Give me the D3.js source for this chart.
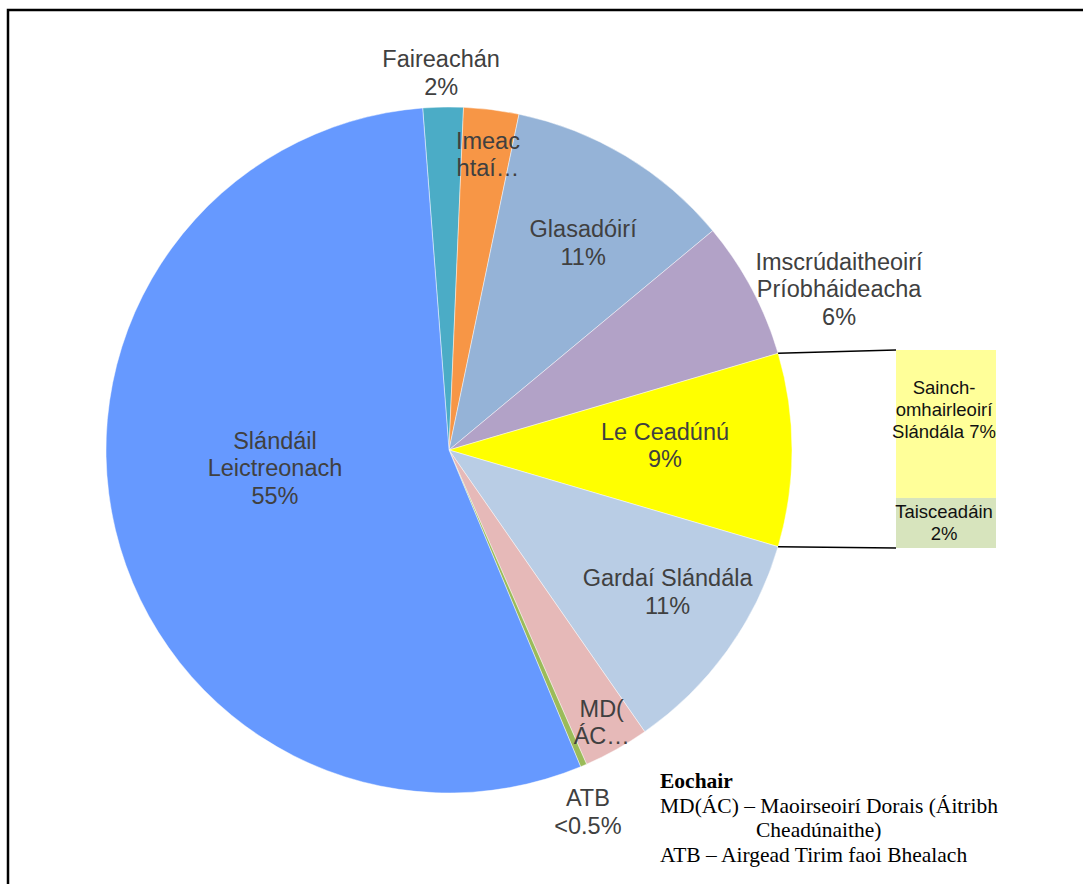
<!DOCTYPE html>
<html>
<head>
<meta charset="utf-8">
<script src="https://cdn.jsdelivr.net/npm/d3@7"></script>
<style>
  html, body { margin: 0; padding: 0; background: #fff; }
  svg { display: block; }
</style>
</head>
<body>
<svg id="chart"></svg>
<script>
// pie slices, clockwise from the top
const categories = ["Faireachán", "Imeachtaí", "Glasadóirí", "Imscrúdaitheoirí Príobháideacha",
    "Le Ceadúnú", "Gardaí Slándála", "MD(ÁC)", "ATB", "Slándáil Leictreonach"];
const values = [1.9, 2.6, 10.7, 6.5, 9.1, 10.8, 3.1, 0.3, 55.1];
const labelLines = [
    ["Faireachán", "2%"],
    ["Imeac", "htaí…"],
    ["Glasadóirí", "11%"],
    ["Imscrúdaitheoirí", "Príobháideacha", "6%"],
    ["Le Ceadúnú", "9%"],
    ["Gardaí Slándála", "11%"],
    ["MD(", "ÁC…"],
    ["ATB", "<0.5%"],
    ["Slándáil", "Leictreonach", "55%"]
];
// the "Le Ceadúnú" slice broken out into the bar
const barCategories = ["Sainch-omhairleoirí Slándála", "Taisceadáin"];
const barValues = [6.8, 2.3];
const barLabelLines = [["Sainch-", "omhairleoirí", "Slándála 7%"], ["Taisceadáin", "2%"]];
const legendTitle = "Eochair";
const legendLines = ["MD(ÁC) – Maoirseoirí Dorais (Áitribh", "Cheadúnaithe)", "ATB – Airgead Tirim faoi Bhealach"];

const width = 1083, height = 884;
const cx = 449, cy = 450, radius = 343;
const colors = ["#4BACC6", "#F79646", "#95B3D7", "#B2A2C7", "#FFFF00", "#B9CDE5", "#E6B9B8", "#9BBB59", "#6699FF"];
const barColors = ["#FFFF99", "#D7E4BD"];
const otherIndex = 4;
// label placement: angle (deg, clockwise from top) and radius as a share of the pie radius
const labelPlace = [
    {a: -1.2, r: 1.10}, {a: 7.5, r: 0.87}, {a: 32.9, r: 0.72}, {a: 67.6, r: 1.23},
    {a: 88.7, r: 0.63}, {a: 123, r: 0.76}, {a: 150.7, r: 0.91}, {a: 159, r: 1.13}, {a: 264.1, r: 0.51}
];

const svg = d3.select("#chart").attr("width", width).attr("height", height);

// frame (only top and left edges fall inside the picture)
svg.append("rect")
    .attr("x", 8).attr("y", 10).attr("width", width + 20).attr("height", height + 20)
    .attr("fill", "none").attr("stroke", "#000").attr("stroke-width", 2.5);

// start angle so the broken-out slice sits at 3 o'clock
const total = d3.sum(values);
const before = d3.sum(values.slice(0, otherIndex)) + values[otherIndex] / 2;
const start = Math.PI / 2 - before / total * 2 * Math.PI;

const pie = d3.pie().sort(null).value(d => d)
    .startAngle(start).endAngle(start + 2 * Math.PI);
const arcs = pie(values);
const arc = d3.arc().innerRadius(0).outerRadius(radius);

const g = svg.append("g").attr("transform", `translate(${cx},${cy})`);
g.selectAll("path.slice")
    .data(arcs)
    .join("path")
    .attr("class", "slice")
    .attr("d", arc)
    .attr("fill", (d, i) => colors[i])
    .attr("stroke", "#fff")
    .attr("stroke-opacity", 0.6)
    .attr("stroke-width", 0.75);

// pie labels
const pieFont = 23.5, pieLine = 27.5;
arcs.forEach((d, i) => {
    const p = labelPlace[i];
    const a = p.a * Math.PI / 180;
    const x = Math.sin(a) * p.r * radius, y = -Math.cos(a) * p.r * radius;
    const lines = labelLines[i];
    const t = g.append("text")
        .attr("text-anchor", "middle")
        .attr("font-family", "Liberation Sans, Arial, sans-serif")
        .attr("font-size", pieFont)
        .attr("fill", "#404040");
    lines.forEach((s, k) => {
        t.append("tspan")
            .attr("x", x)
            .attr("y", y + (k - (lines.length - 1) / 2) * pieLine)
            .attr("dy", "0.35em")
            .text(s);
    });
});

// bar of the broken-out slice
const barX = 896, barW = 100, barTop = 350, barBottom = 548;
const yBar = d3.scaleLinear().domain([0, d3.sum(barValues)]).range([barTop, barBottom]);
const stacked = barValues.map((v, i) => ({v, i, y0: d3.sum(barValues.slice(0, i))}));
svg.selectAll("rect.bar")
    .data(stacked)
    .join("rect")
    .attr("class", "bar")
    .attr("x", barX).attr("width", barW)
    .attr("y", d => yBar(d.y0))
    .attr("height", d => yBar(d.y0 + d.v) - yBar(d.y0))
    .attr("fill", d => barColors[d.i]);

const barFont = 18.5, barLine = 22;
stacked.forEach(d => {
    const lines = barLabelLines[d.i];
    const mid = d.i === 0 ? yBar(d.y0) + 60 : (yBar(d.y0) + yBar(d.y0 + d.v)) / 2;
    const t = svg.append("text")
        .attr("text-anchor", "middle")
        .attr("font-family", "Liberation Sans, Arial, sans-serif")
        .attr("font-size", barFont)
        .attr("fill", "#111");
    lines.forEach((s, k) => {
        t.append("tspan")
            .attr("x", barX + barW / 2 - 2)
            .attr("y", mid + (k - (lines.length - 1) / 2) * barLine)
            .attr("dy", "0.35em")
            .text(s);
    });
});

// connector lines from the slice edge to the bar
const o = arcs[otherIndex];
const edge = a => [cx + Math.sin(a) * radius, cy - Math.cos(a) * radius];
[[edge(o.startAngle), [barX, barTop]], [edge(o.endAngle), [barX, barBottom]]].forEach(seg => {
    svg.append("line")
        .attr("x1", seg[0][0]).attr("y1", seg[0][1])
        .attr("x2", seg[1][0]).attr("y2", seg[1][1])
        .attr("stroke", "#000").attr("stroke-width", 1.5);
});

// key
const key = svg.append("g")
    .attr("font-family", "Liberation Serif, Times New Roman, serif")
    .attr("font-size", 21.5)
    .attr("fill", "#000");
key.append("text").attr("x", 660).attr("y", 788).attr("font-weight", "bold").text(legendTitle);
key.append("text").attr("x", 660).attr("y", 813).text(legendLines[0]);
key.append("text").attr("x", 756).attr("y", 837).text(legendLines[1]);
key.append("text").attr("x", 660).attr("y", 862).text(legendLines[2]);
</script>
</body>
</html>
